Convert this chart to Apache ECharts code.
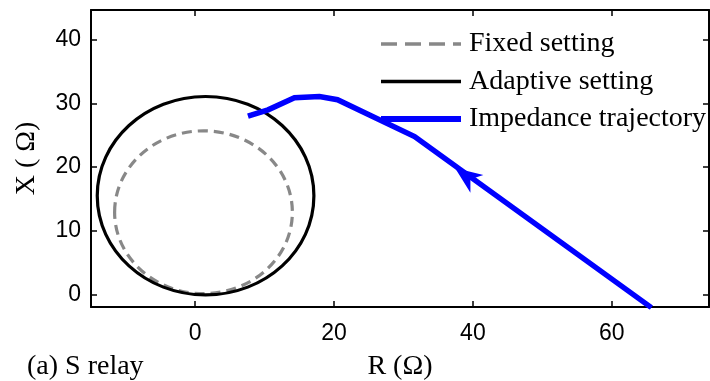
<!DOCTYPE html>
<html>
<head>
<meta charset="utf-8">
<script src="https://cdn.jsdelivr.net/npm/echarts@6/dist/echarts.min.js"></script>
<style>html,body{margin:0;padding:0;background:#fff;}#c{width:710px;height:381px;}</style>
</head>
<body>
<div id="c"></div>
<script>
// ---- data ----
var xTicks = [0, 20, 40, 60];
var yTicks = [0, 10, 20, 30, 40];
// circles: [centerR, centerX, radius]
var fixedCircle = [1.2, 12.9, 12.8];
var adaptiveCircle = [1.5, 15.5, 15.6];
// impedance trajectory
var trajR = [7.6, 10.5, 14.3, 17.9, 20.5, 31.6, 65.7];
var trajX = [28.0, 29.0, 30.9, 31.1, 30.6, 24.8, -2.1];
var arrowAt = [39.0, 18.6];
var seriesNames = ['Fixed setting', 'Adaptive setting', 'Impedance trajectory'];

var serif = '"Liberation Serif", "Times New Roman", serif';
var sans = '"Liberation Sans", Arial, sans-serif';

function circleRender(color, dash) {
  return function (params, api) {
    var c = api.coord([api.value(0), api.value(1)]);
    var s = api.size([api.value(2), api.value(2)]);
    return {
      type: 'ellipse',
      shape: { cx: c[0], cy: c[1], rx: s[0], ry: s[1] },
      style: { fill: 'none', stroke: color, lineWidth: 3.2, lineDash: dash }
    };
  };
}

var traj = trajR.map(function (r, i) { return [r, trajX[i]]; });

var chart = echarts.init(document.getElementById('c'), null, { renderer: 'canvas' });
var axisLineStyle = { color: '#000', width: 2 };
var tickStyle = { color: '#000', width: 1.5 };
chart.setOption({
  animation: false,
  backgroundColor: '#fff',
  title: {
    text: '(a) S relay', left: 27, top: 353, padding: 0,
    textStyle: { fontFamily: serif, fontSize: 28, fontWeight: 'normal', color: '#000' }
  },
  grid: { left: 91, top: 10, width: 618, height: 297, containLabel: false, outerBoundsMode: 'none' },
  legend: {
    orient: 'vertical', left: 381, top: 29, padding: 0, itemWidth: 80, itemHeight: 6, itemGap: 7.5,
    textStyle: { fontFamily: serif, fontSize: 28, color: '#000', lineHeight: 30, padding: [0, 0, 0, 3] },
    data: [
      { name: seriesNames[0], icon: 'path://M0,0M80,6M0,1.3h16v3.4h-16zM24,1.3h16v3.4h-16zM48,1.3h16v3.4h-16zM72,1.3h8v3.4h-8z', itemStyle: { color: '#888888' } },
      { name: seriesNames[1], icon: 'path://M0,0M80,6M0,1.3h80v3.4h-80z', itemStyle: { color: '#000000' } },
      { name: seriesNames[2], icon: 'path://M0,0M80,6M0,0h80v6h-80z', itemStyle: { color: '#0000ff' } }
    ]
  },
  xAxis: [{
    type: 'value', min: -15, max: 74, position: 'bottom',
    name: 'R (Ω)', nameLocation: 'middle', nameGap: 46,
    nameTextStyle: { fontFamily: serif, fontSize: 28, color: '#000' },
    axisLine: { show: true, onZero: false, lineStyle: axisLineStyle },
    axisTick: { show: true, inside: true, length: 6, lineStyle: tickStyle, customValues: xTicks },
    axisLabel: { fontFamily: sans, fontSize: 23, color: '#000', margin: 15, customValues: xTicks },
    splitLine: { show: false }
  }, {
    type: 'value', min: -15, max: 74, position: 'top',
    axisLine: { show: true, onZero: false, lineStyle: axisLineStyle },
    axisTick: { show: true, inside: true, length: 6, lineStyle: tickStyle, customValues: xTicks },
    axisLabel: { show: false, customValues: xTicks },
    splitLine: { show: false }
  }],
  yAxis: [{
    type: 'value', min: -2, max: 44.7, position: 'left',
    name: 'X ( Ω)', nameLocation: 'middle', nameGap: 50, nameRotate: 90,
    nameTextStyle: { fontFamily: serif, fontSize: 28, color: '#000' },
    axisLine: { show: true, onZero: false, lineStyle: axisLineStyle },
    axisTick: { show: true, inside: true, length: 6, lineStyle: tickStyle, customValues: yTicks },
    axisLabel: { fontFamily: sans, fontSize: 23, color: '#000', margin: 10, customValues: yTicks },
    splitLine: { show: false }
  }, {
    type: 'value', min: -2, max: 44.7, position: 'right',
    axisLine: { show: true, onZero: false, lineStyle: axisLineStyle },
    axisTick: { show: true, inside: true, length: 6, lineStyle: tickStyle, customValues: yTicks },
    axisLabel: { show: false, customValues: yTicks },
    splitLine: { show: false }
  }],
  series: [{
    name: seriesNames[0], type: 'custom', xAxisIndex: 0, yAxisIndex: 0,
    renderItem: circleRender('#888888', [10, 6]),
    encode: { x: 0, y: 1 },
    itemStyle: { color: '#888888' },
    data: [fixedCircle], z: 2
  }, {
    name: seriesNames[1], type: 'custom', xAxisIndex: 0, yAxisIndex: 0,
    renderItem: circleRender('#000000', null),
    encode: { x: 0, y: 1 },
    itemStyle: { color: '#000000' },
    data: [adaptiveCircle], z: 3
  }, {
    name: seriesNames[2], type: 'line', xAxisIndex: 0, yAxisIndex: 0,
    data: traj, symbol: 'none', clip: true, z: 4,
    lineStyle: { color: '#0000ff', width: 5.5, join: 'miter' },
    itemStyle: { color: '#0000ff' },
    markPoint: {
      silent: true,
      symbol: 'path://M11,0L22,27L11,19L0,27Z',
      symbolSize: [22, 27], symbolRotate: 54,
      label: { show: false },
      itemStyle: { color: '#0000ff' },
      data: [{ coord: arrowAt }]
    }
  }]
});
</script>
</body>
</html>
